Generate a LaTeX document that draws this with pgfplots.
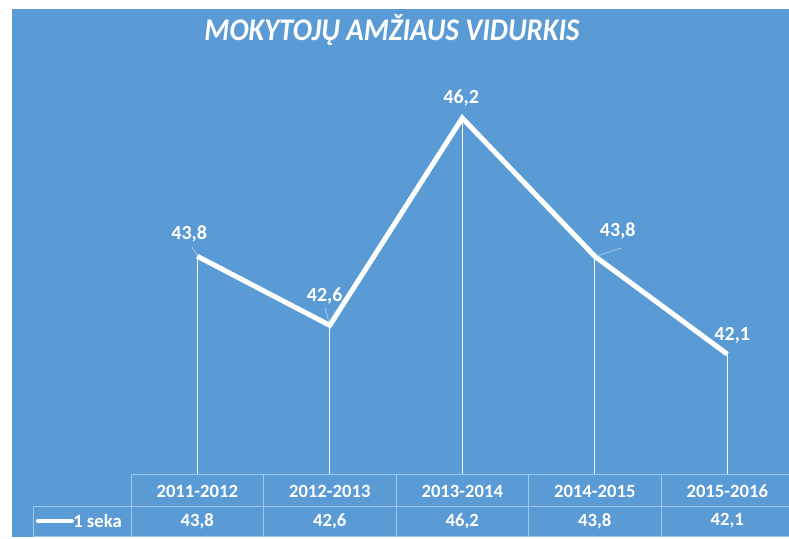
\documentclass[border=0pt]{standalone}
\usepackage{fontspec}
\setmainfont{Carlito}
\usepackage{pgfplots}
\usepackage{pgfplotstable}
\pgfplotsset{compat=1.18}

\definecolor{bgblue}{RGB}{91,155,213}
\definecolor{cellline}{RGB}{160,198,233}

% x = category centre, y = average age, dx/dy = label offset in px
\pgfplotstableread{
x   y    dx  dy
0.5 43.8 -8  22
1.5 42.6 -5  29
2.5 46.2 -1  20
3.5 43.8 23  25
4.5 42.1 5   19
}\agedata

\newcommand{\lblfont}{\fontsize{15}{18}\selectfont\bfseries}
\newcommand{\tabfont}{\fontsize{14}{17}\selectfont\bfseries}

\begin{document}
\begin{tikzpicture}[x=0.75pt,y=-0.75pt]
\useasboundingbox (0,0) rectangle (789,539);
\fill[white] (0,0) rectangle (789,539);
\fill[bgblue] (12,9) rectangle (789,537);

\node[font=\fontsize{21.5}{25}\selectfont\bfseries\itshape, text=white, yscale=1.1] at (392,30) {MOKYTOJŲ AMŽIAUS VIDURKIS};

\begin{axis}[
    at={(98.25pt,-356.25pt)}, anchor=south west,
    scale only axis,
    width=496.875pt, height=302.25pt,
    xmin=0, xmax=5, ymin=40, ymax=47,
    clip=false,
    axis line style={draw=none},
    major tick length=0pt,
    ytick=\empty,
    xtick={0.5,1.5,2.5,3.5,4.5},
    xticklabels={2011-2012,2012-2013,2013-2014,2014-2015,2015-2016},
    xticklabel style={anchor=center, yshift=-12pt, font=\tabfont, text=white},
    /pgf/number format/use comma,
    /pgf/number format/fixed,
    /pgf/number format/fixed zerofill,
    /pgf/number format/precision=1,
    /pgf/number format/assume math mode=true,
]
% drop lines
\addplot[draw=none, mark=none,
    error bars/.cd, y dir=minus, y explicit, error mark=none,
    error bar style={draw=white, line width=0.8pt}]
    table[x=x, y=y, y error expr=\thisrow{y}-40] {\agedata};
% series
\addplot[white, line width=3.75pt, line join=miter, mark=none,
    nodes near coords, point meta=explicit,
    visualization depends on={\thisrow{dx}\as\dx},
    visualization depends on={\thisrow{dy}\as\dy},
    every node near coord/.append style={anchor=center,
        xshift={\dx*0.75pt}, yshift={\dy*0.75pt},
        font=\lblfont, text=white}]
    table[x=x, y=y, meta=y] {\agedata};
% data table row
\addplot[draw=none, mark=none,
    nodes near coords, point meta=explicit,
    every node near coord/.append style={anchor=center, yshift=-34.5pt,
        font=\tabfont, text=white}]
    table[x=x, y expr=40, meta=y] {\agedata};
\end{axis}

% leader lines
\draw[white!45!bgblue, line width=0.6pt] (192,247) -- (197,255);
\draw[white!45!bgblue, line width=0.6pt] (325,308) -- (329,322);
\draw[white!45!bgblue, line width=0.6pt] (597,256) -- (621,248);

% data table grid
\draw[cellline, line width=0.75pt]
    (131,474) -- (789,474)
    (33,506) -- (789,506)
    (33,536) -- (789,536)
    (33,506) -- (33,536)
    (131,474) -- (131,536)
    (263.5,474) -- (263.5,536)
    (396,474) -- (396,536)
    (528.5,474) -- (528.5,536)
    (661,474) -- (661,536);

% legend key
\draw[white, line width=3pt, line cap=round] (38,521) -- (72,521);
\node[anchor=west, inner sep=0pt, font=\tabfont, text=white] at (73,521) {1 seka};
\end{tikzpicture}
\end{document}
